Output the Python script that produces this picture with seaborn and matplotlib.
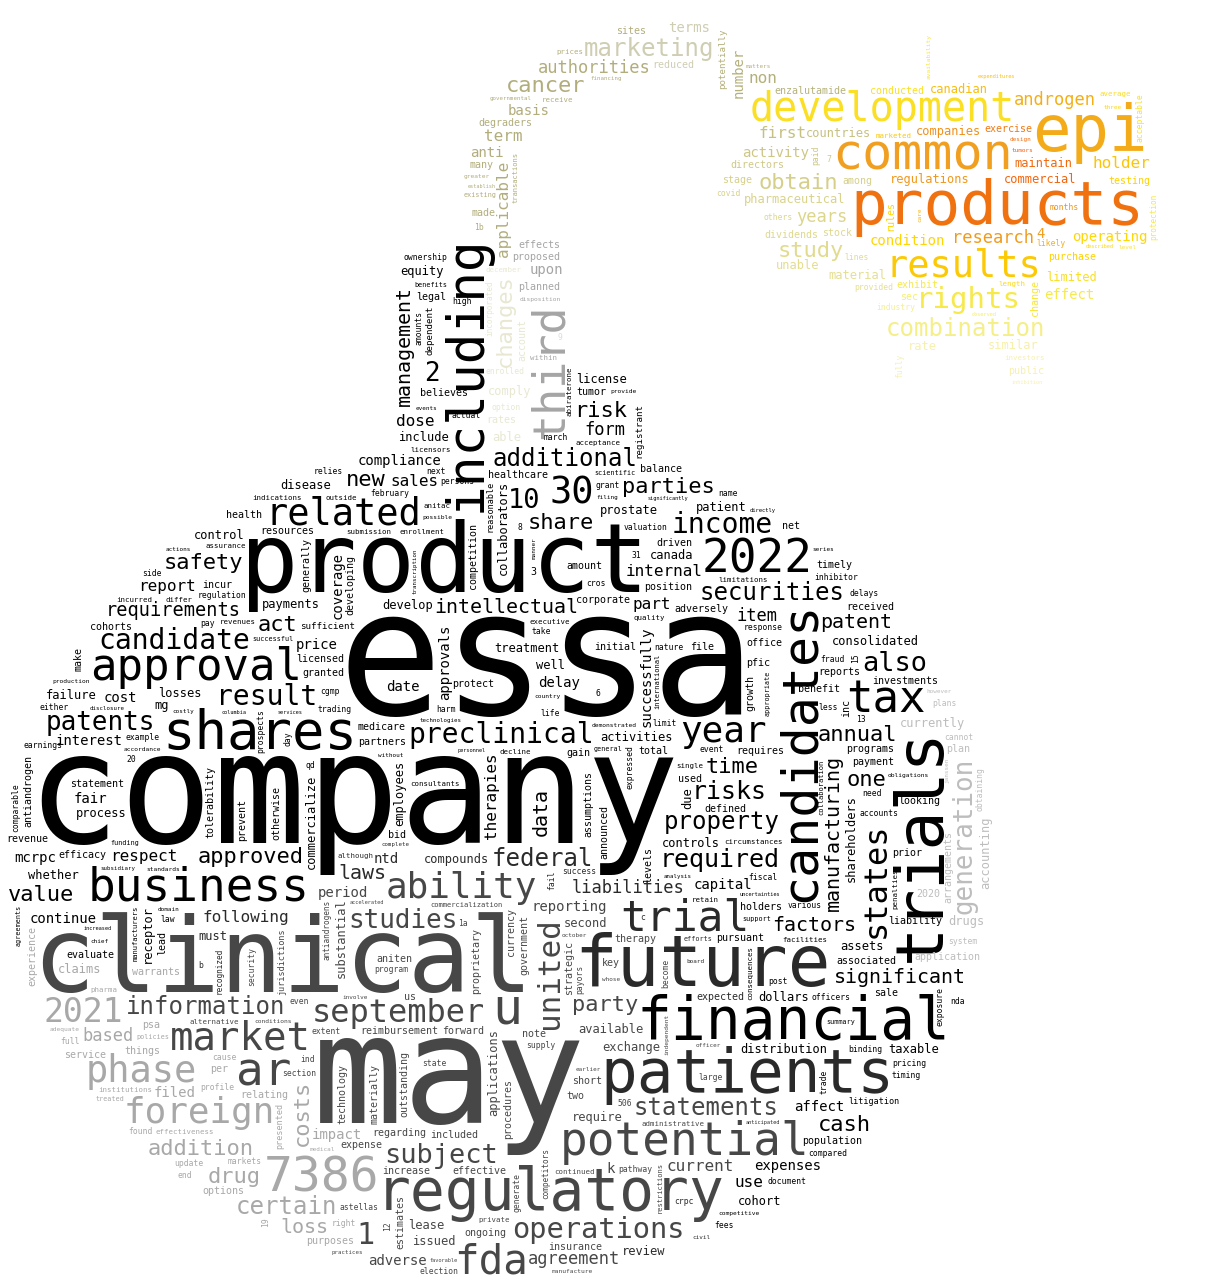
import numpy as np
import matplotlib
matplotlib.use("Agg")
import matplotlib.pyplot as plt
import seaborn as sns
from matplotlib.path import Path
from matplotlib.textpath import TextPath
from matplotlib.font_manager import FontProperties

sns.set_theme(style="white")
plt.rcParams["font.family"] = ["DejaVu Sans Mono", "DejaVu Sans"]

# Word weights (value ~ rendered em size in px)
top_words = [
    ("essa", 174), ("company", 155), ("may", 152), ("clinical", 104), ("product", 97),
    ("future", 71), ("trials", 65), ("epi", 64), ("patients", 61), ("products", 61),
    ("regulatory", 58), ("financial", 58), ("shares", 54), ("including", 51),
    ("candidates", 50), ("common", 50), ("u", 50), ("7386", 48), ("potential", 46),
    ("business", 46), ("ar", 46), ("2022", 46), ("third", 45), ("approval", 44),
    ("tax", 44), ("trial", 43), ("fda", 41), ("development", 40), ("market", 39),
    ("results", 37), ("related", 37), ("phase", 37), ("30", 37), ("ability", 36),
    ("year", 36), ("foreign", 36), ("operations", 34), ("2021", 33), ("states", 32),
    ("september", 32), ("united", 31), ("1", 30), ("rights", 29), ("preclinical", 28),
    ("income", 28), ("result", 28), ("candidate", 28), ("also", 27), ("subject", 27),
    ("10", 27), ("studies", 26), ("patents", 26), ("generation", 26), ("2", 26),
    ("risks", 25), ("required", 25),
]

tier_24 = ["securities", "statements", "certain", "marketing", "property", "additional",
           "federal", "information", "combination"]
tier_22 = ["obtain", "addition", "cash", "new", "requirements", "risk", "study", "party",
           "value", "parties", "approved", "time", "drug", "costs", "changes", "one",
           "cancer", "safety", "share", "act", "annual"]
tier_20 = ["significant", "intellectual", "patent", "loss", "laws", "data", "factors",
           "management", "manufacturing"]
tier_17 = ["androgen", "form", "years", "authorities", "agreement", "research", "item",
           "based", "liabilities"]
tier_16 = ["current", "term", "part", "first", "internal", "following", "holder", "respect",
           "non", "sales", "use", "report", "dose", "applicable", "therapies"]
tier_14 = ["condition", "interest", "basis", "activity", "filed", "terms", "date", "delay",
           "upon", "capital", "reporting", "adverse", "compliance", "expenses", "operating",
           "effect", "fair", "impact", "affect", "period", "anti", "price", "continue", "cost",
           "coverage", "ntd", "4", "mcrpc", "number", "successfully", "approvals", "k"]
tier_12 = ["drugs", "compounds", "mg", "include", "taxable", "lease", "rate", "regulations",
           "pharmaceutical", "consolidated", "able", "control", "issued", "prostate",
           "exchange", "develop", "disease", "available", "canada", "assets", "license",
           "review", "whether", "dollars", "canadian", "companies", "maintain", "activities",
           "patient", "cohort", "limited", "equity", "claims", "similar", "must", "comply",
           "losses", "countries", "controls", "currently", "receptor", "applications",
           "second", "failure", "require", "distribution", "commercial", "treatment",
           "payments", "material", "unable", "process", "well", "employees", "accounting",
           "shareholders", "substantial", "collaborators", "commercialize", "due"]
tier_10 = ["many", "testing", "position", "holders", "planned", "partners", "population",
           "sec", "purchase", "options", "adversely", "two", "licensed", "expected", "among",
           "pursuant", "included", "reimbursement", "looking", "rates", "public",
           "enzalutamide", "benefit", "total", "stock", "health", "efficacy", "liability",
           "net", "sites", "stage", "application", "legal", "relating", "used", "amount",
           "payment", "proposed", "file", "granted", "associated", "directors", "investments",
           "exercise", "tumor", "incur", "pfic", "insurance", "initial", "exhibit",
           "effective", "therapy", "degraders", "believes", "conducted", "increase",
           "revenue", "key", "ongoing", "protect", "regarding", "healthcare", "statement",
           "warrants", "resources", "things", "evaluate", "purposes", "aniten", "gain",
           "timely", "note", "plan", "short", "effects", "sufficient", "requires", "medicare",
           "corporate", "sale", "prior", "expense", "per", "us", "forward", "litigation", "3",
           "dividends", "psa", "received", "driven", "reduced", "balance", "made", "reports",
           "cohorts", "defined", "programs", "office", "bid", "2020", "service", "currency",
           "competition", "make", "proprietary", "prevent", "antiandrogen", "assumptions",
           "outstanding", "government", "growth", "tolerability", "developing", "strategic",
           "arrangements", "otherwise", "technology", "jurisdictions", "levels", "announced",
           "experience", "materially", "potentially", "inc", "account", "generally",
           "estimates", "incorporated", "procedures", "antiandrogens", "lead", "registrant",
           "dependent", "rules", "competitors", "recognized", "transactions", "international",
           "change", "presented", "manufacturers", "collaboration", "reasonable",
           "restrictions", "protection", "commercialization"]
tier_8 = ["system", "astellas", "officers", "pricing", "lines", "side", "inhibitor",
          "appropriate", "document", "pay", "qd", "even", "option", "valuation", "march", "9",
          "various", "regulation", "update", "availability", "b", "become", "program", "law",
          "fail", "fully", "consequences", "submission", "example", "fees", "alternative", "31",
          "7", "8", "facilities", "comparable", "binding", "ownership", "obtaining",
          "expressed", "effectiveness", "20", "plans", "fraud", "competitive", "acceptance",
          "disposition", "life", "profile", "state", "limitations", "compared", "industry",
          "nda", "accounts", "governmental", "cgmp", "circumstances", "take", "enrollment",
          "administrative", "cause", "indications", "fiscal", "payors", "february", "delays",
          "obligations", "trading", "licensors", "response", "investors", "enrolled",
          "election", "either", "executive", "markets", "institutions", "provided",
          "continued", "consultants", "production", "demonstrated", "december", "extent",
          "technologies", "persons", "12", "relies", "earnings", "although", "pathway",
          "acceptable", "1b", "actual", "manufacture", "prospects", "generate", "security",
          "amounts", "penalties", "uncertainties", "significantly", "successful",
          "scientific", "event", "marketed", "section", "existing", "incurred", "others",
          "expenditures", "private", "likely", "supply", "adequate", "accordance", "c", "13",
          "independent", "policies", "transcription", "practices", "conditions", "receive",
          "exposure", "high", "quality", "assurance", "next", "6", "support", "possible",
          "timing", "months", "average", "success", "greater", "differ", "name",
          "anticipated", "less", "ind", "full", "retain", "subsidiary", "trade", "paid",
          "single", "revenues", "1a", "need", "accelerated", "crpc", "length", "end", "grant",
          "country", "decline", "right", "nature", "found", "15", "funding", "standards",
          "analysis", "complete", "cros", "prices", "within", "disclosure", "instruments",
          "benefits", "inhibition", "outside", "financing", "cannot", "agreements",
          "abiraterone", "summary", "personnel", "favorable", "pharma", "increased",
          "treated", "harm", "limit", "efforts", "covid", "anitac", "large", "investment",
          "reference", "provide", "506", "post", "general", "19", "day"]
tier_6 = ["legislation", "october", "establish", "chief", "described", "series", "however",
          "level", "officer", "equivalents", "janssen", "care", "earlier", "design",
          "directly", "comprehensive", "events", "board", "domain", "costly", "three",
          "without", "whose", "civil", "medical", "performance", "observed", "tumors",
          "services", "matters", "manner", "filing", "involve", "actions", "particular",
          "columbia"]

vertical_words = {
    "trials", "including", "third", "candidates", "states", "costs", "changes", "receptor",
    "competitors", "applications", "transactions", "recognized", "international", "change",
    "commercialize", "agreements", "abiraterone", "protection", "janssen", "care",
    "restrictions", "manufacturing", "collaborators", "reasonable", "manner", "day", "19",
    "15", "successfully", "united", "approvals", "consequences", "comparable", "make",
    "applicable", "therapies", "currency", "competition", "appropriate", "generation",
    "prevent", "antiandrogen", "proprietary", "assumptions", "outstanding", "government",
    "growth", "data", "management", "tolerability", "developing", "trade", "paid",
    "strategic", "exposure", "presented", "manufacturers", "arrangements", "otherwise",
    "independent", "technology", "jurisdictions", "levels", "number", "announced",
    "experience", "materially", "potentially", "coverage", "due", "account", "inc",
    "accounting", "employees", "shareholders", "registrant", "obtaining", "dependent",
    "rules", "expressed", "substantial", "lead", "collaboration", "penalties", "prospects",
    "payors", "generally", "estimates", "incorporated", "procedures", "antiandrogens",
    "security", "12", "availability", "become", "fully", "fail", "amounts", "acceptable",
    "generate", "transcription",
}

# ---------------- bomb-shaped mask (image pixels, y down) ----------------
W, H, DPI, STEP = 1218, 1280, 100, 2
GW, GH = W // STEP, H // STEP

neck_poly = [(392, 470), (395, 255), (440, 238), (528, 228), (566, 240), (566, 365),
             (635, 370), (660, 450)]
spark_poly = [(740, 95), (800, 80), (850, 85), (920, 82), (922, 32), (940, 32), (948, 80),
              (1010, 65), (1030, 85), (1110, 88), (1145, 92), (1150, 150), (1168, 235),
              (1150, 255), (1100, 250), (1095, 305), (1050, 305), (1045, 388), (1010, 388),
              (1000, 358), (960, 340), (915, 380), (890, 380), (880, 320), (860, 298),
              (810, 275), (765, 270), (760, 215), (712, 200), (715, 170), (745, 140)]
fuse_line = [(490, 245), (492, 150), (505, 120), (530, 95), (570, 72), (620, 52),
             (670, 40), (715, 52), (750, 80), (775, 110)]

jj, ii = np.meshgrid(np.arange(GW), np.arange(GH))
cx = jj * STEP + STEP / 2
cy = ii * STEP + STEP / 2
pts = np.column_stack([cx.ravel(), cy.ravel()])

body = ((cx - 500) / 497) ** 2 + ((cy - 858) / 425) ** 2 <= 1.0
neck = Path(neck_poly).contains_points(pts).reshape(GH, GW)
spark = Path(spark_poly).contains_points(pts).reshape(GH, GW)
fuse = np.zeros((GH, GW), bool)
for (x0, y0), (x1, y1) in zip(fuse_line[:-1], fuse_line[1:]):
    dx, dy = x1 - x0, y1 - y0
    t = np.clip(((cx - x0) * dx + (cy - y0) * dy) / (dx * dx + dy * dy), 0, 1)
    fuse |= np.hypot(cx - (x0 + t * dx), cy - (y0 + t * dy)) <= 30
allowed = body | neck | spark | fuse

# ---------------- colours taken from the "picture" under each word ----------------
flame = sns.blend_palette(["#ff3a00", "#f07010", "#f0a020", "#ffd400", "#f4ee5a", "#f6f0b0"],
                          n_colors=64, as_cmap=False)
khaki = sns.blend_palette(["#b4b07a", "#d6d08a", "#e6e090"], n_colors=32)


def color_at(x, y):
    if y < 392 and x > 705:
        if x < 880:
            return khaki[int(np.clip((y - 80) / 200, 0, 1) * 31)]
        d = np.hypot(x - 1005, (y - 170) * 1.2)
        return flame[int(np.clip(d / 210, 0, 1) * 63)]
    if y < 238:
        return "#cfcdb2" if x > 640 else "#b2ad7c"
    if y < 440 and 392 <= x < 570:
        if x < 478:
            return "#000000"
        if x < 524:
            return "#e8e8d2"
        if x < 548:
            return "#a5a5a5"
        if y < 372:
            return "#dcdcdc"
        return "#000000"
    r = np.hypot((x - 500) / 497, (y - 858) / 425)
    if x > 905 and 560 < y < 960 and r > 0.86:
        return "#bdbdbd"
    if x < 345 and y > 955 and r > 0.7:
        return "#a8a8a8"
    q = np.hypot((x - 455) / 300, (y - 1085) / 240)
    if q < 0.9:
        return "#474747"
    if q < 1.05:
        return "#2a2a2a"
    return "#000000"


# ---------------- greedy placement, largest first ----------------
words = list(top_words)
for val, group in [(24, tier_24), (22, tier_22), (20, tier_20), (17, tier_17), (16, tier_16),
                   (14, tier_14), (12, tier_12), (10, tier_10), (8, tier_8), (6, tier_6)]:
    words += [(w_, val) for w_ in group]
seen = set()
words = [p for p in sorted(words, key=lambda p: -p[1]) if not (p[0] in seen or seen.add(p[0]))]


def integral(block):
    S = np.zeros((GH + 1, GW + 1), np.int32)
    S[1:, 1:] = block.cumsum(0).cumsum(1)
    return S


occ = np.zeros((GH, GW), bool)
S = integral(~allowed)
rng = np.random.default_rng(11)
fp = FontProperties(family="DejaVu Sans Mono")
placed = []

for word, weight in words:
    tp = TextPath((0, 0), word, size=100, prop=fp)
    xmin, ymin = tp.vertices.min(0)
    xmax, ymax = tp.vertices.max(0)
    vert = word in vertical_words
    size = float(weight)
    found = False
    while size >= 5:
        k = size / 100
        iw, ih = (xmax - xmin) * k, (ymax - ymin) * k
        bw, bh = (ih, iw) if vert else (iw, ih)
        cw = int(np.ceil(bw / STEP)) + 2
        ch = int(np.ceil(bh / STEP)) + 2
        if cw < GW and ch < GH:
            win = S[ch:, cw:] - S[:-ch, cw:] - S[ch:, :-cw] + S[:-ch, :-cw]
            ys, xs = np.nonzero(win == 0)
            if len(ys):
                n = rng.integers(len(ys))
                i, j = ys[n], xs[n]
                found = True
                break
        size *= 0.92
    if not found:
        continue
    bx0, by0 = (j + 1) * STEP, (i + 1) * STEP
    if vert:
        X, Y = bx0 + ymax * k, by0 + xmax * k
    else:
        X, Y = bx0 - xmin * k, by0 + ymax * k
    sx = cx[i:i + ch, j:j + cw]
    sy = cy[i:i + ch, j:j + cw]
    if size < 14:
        ink = np.zeros((ch, cw), bool)
        ink[1:-1, 1:-1] = True
    else:
        if vert:
            u, v = (Y - sy) / k, (X - sx) / k
        else:
            u, v = (sx - X) / k, (Y - sy) / k
        ink = tp.contains_points(np.column_stack([u.ravel(), v.ravel()])).reshape(ch, cw)
        if not ink.any():
            ink[1:-1, 1:-1] = True
    dil = ink.copy()
    dil[1:] |= ink[:-1]
    dil[:-1] |= ink[1:]
    dil2 = dil.copy()
    dil2[:, 1:] |= dil[:, :-1]
    dil2[:, :-1] |= dil[:, 1:]
    occ[i:i + ch, j:j + cw] |= dil2
    S = integral(~allowed | occ)
    placed.append((word, X, Y, size, vert, color_at(bx0 + bw / 2, by0 + bh / 2)))

# ---------------- draw ----------------
fig = plt.figure(figsize=(W / DPI, H / DPI), dpi=DPI)
ax = fig.add_axes([0, 0, 1, 1])
ax.set_xlim(0, W)
ax.set_ylim(H, 0)
ax.axis("off")
for word, X, Y, size, vert, col in placed:
    ax.text(X, Y, word, fontsize=size * 72 / DPI, color=col, family="DejaVu Sans Mono",
            ha="left", va="baseline", rotation=90 if vert else 0, rotation_mode="anchor")
fig.savefig("out.png", dpi=DPI, facecolor="white")
print(len(placed), "of", len(words))
